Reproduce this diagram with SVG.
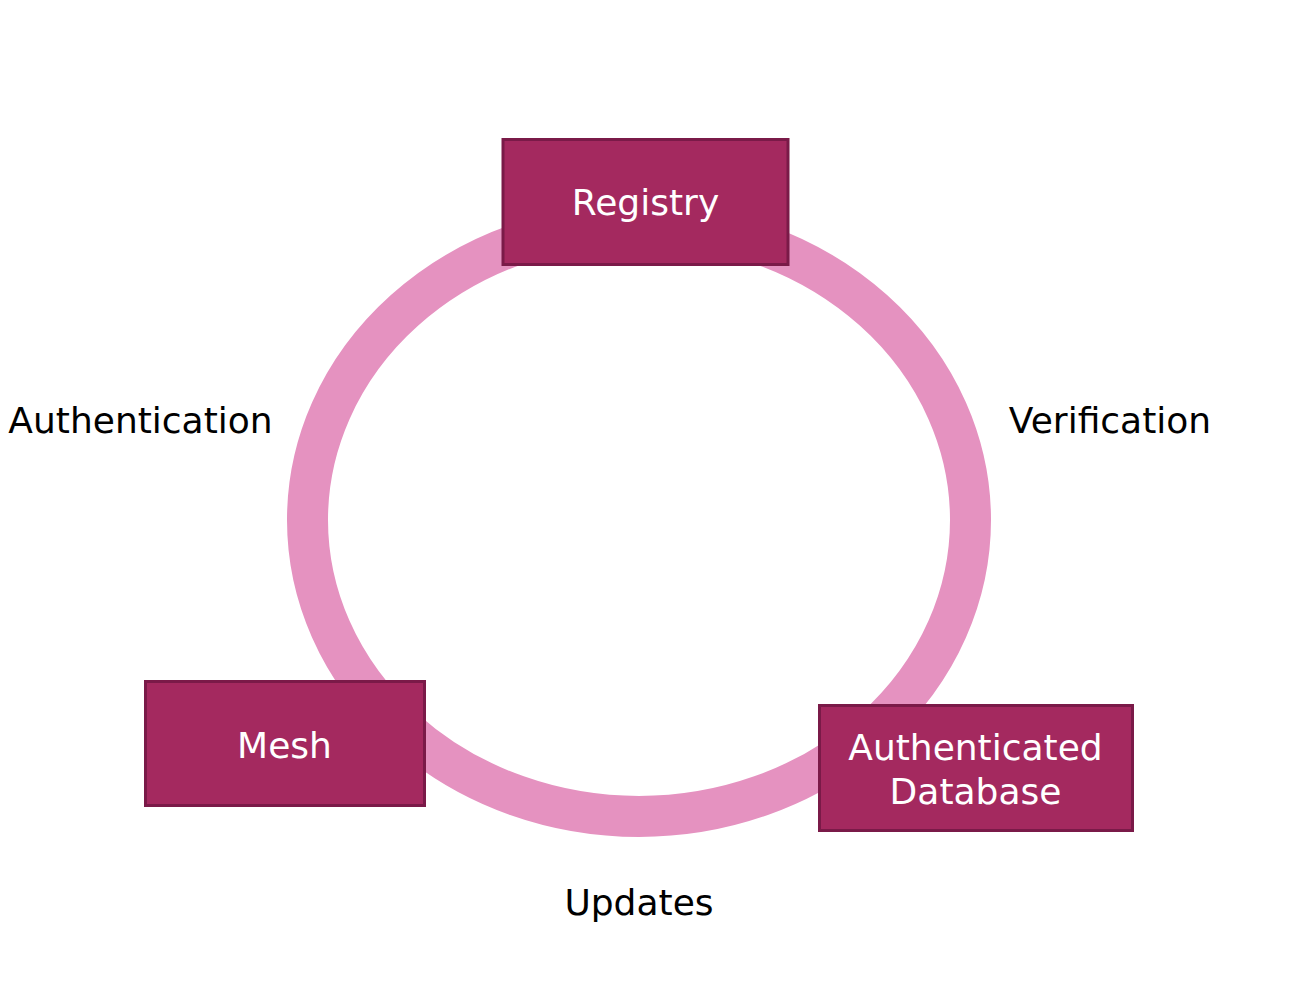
<svg xmlns="http://www.w3.org/2000/svg" width="1308" height="1004" viewBox="0 0 1308 1004">
<style>
.box{fill:#a4295f;stroke:#7a1a48;stroke-width:3}
.nt{font-family:"DejaVu Sans","Liberation Sans",sans-serif;font-size:36px;fill:#ffffff;text-anchor:middle}
.lb{font-family:"DejaVu Sans","Liberation Sans",sans-serif;font-size:36px;fill:#000000;text-anchor:middle}
</style>
<rect width="1308" height="1004" fill="#ffffff"/>
<g id="connectors">
<ellipse cx="639" cy="520" rx="331.5" ry="296.5" fill="none" stroke="#e592c0" stroke-width="41"/>
</g>
<g id="registry">
<rect class="box" x="503" y="139.5" width="285" height="125"/>
<text class="nt" x="645.5" y="215">Registry</text>
</g>
<g id="mesh">
<rect class="box" x="145.5" y="681.5" width="279" height="124"/>
<text class="nt" x="284.5" y="758">Mesh</text>
</g>
<g id="authdb">
<rect class="box" x="819.5" y="705.5" width="313" height="125"/>
<text class="nt" x="975.5" y="760">Authenticated</text>
<text class="nt" x="975.5" y="804">Database</text>
</g>
<g id="labels">
<text class="lb" x="140.5" y="433">Authentication</text>
<text class="lb" x="1110" y="433">Verification</text>
<text class="lb" x="639" y="915">Updates</text>
</g>
</svg>
